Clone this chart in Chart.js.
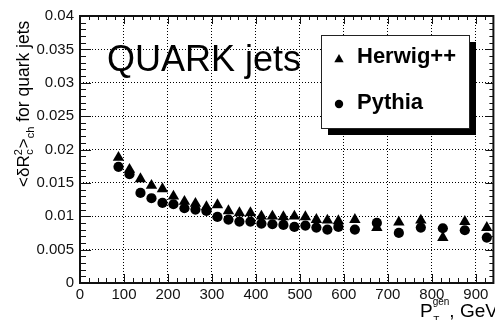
<!DOCTYPE html>
<html>
<head>
<meta charset="utf-8">
<script src="https://cdn.jsdelivr.net/npm/chart.js@4.4.0/dist/chart.umd.min.js"></script>
<style>
  html, body { margin: 0; padding: 0; background: #fff; overflow: hidden; }
</style>
</head>
<body>
<canvas id="myChart" width="500" height="320"></canvas>
<script>
// generator-level pT bin centres, GeV
const ptBins = [87.5, 112.5, 137.5, 162.5, 187.5, 212.5, 237.5, 262.5, 287.5, 312.5,
                337.5, 362.5, 387.5, 412.5, 437.5, 462.5, 487.5, 512.5, 537.5, 562.5,
                587.5, 625, 675, 725, 775, 825, 875, 925]
// <dR^2> for charged constituents of quark jets
const herwig = [0.0188, 0.0170, 0.0156, 0.0146, 0.0141, 0.0130, 0.0122, 0.0119, 0.0114, 0.0117,
                0.0108, 0.0105, 0.0105, 0.0100, 0.0100, 0.0099, 0.0100, 0.0099, 0.0095, 0.0094,
                0.0093, 0.0095, 0.0083, 0.0091, 0.0094, 0.0068, 0.0092, 0.0083]
const pythia = [0.0174, 0.0163, 0.0135, 0.0127, 0.0120, 0.0118, 0.0112, 0.0110, 0.0108, 0.0099,
                0.0095, 0.0092, 0.0092, 0.0089, 0.0088, 0.0087, 0.0084, 0.0086, 0.0083, 0.0080,
                0.0084, 0.0080, 0.0090, 0.0075, 0.0083, 0.0082, 0.0079, 0.0068]
const seriesNames = ['Herwig++', 'Pythia']
const xTicks = [0, 100, 200, 300, 400, 500, 600, 700, 800, 900]
const yTicks = [0, 0.005, 0.01, 0.015, 0.02, 0.025, 0.03, 0.035, 0.04]
const plotTitle = 'QUARK jets'

const FONT = "'Liberation Sans', Arial, Helvetica, sans-serif"
const ink = '#111'

function toPoints(ys) {
    return ptBins.map((x, i) => ({ x: x, y: ys[i] }))
}

function drawMarker(ctx, style, x, y, r) {
    ctx.beginPath()
    if (style === 'triangle') {
        ctx.moveTo(x, y - r)
        ctx.lineTo(x + r * 0.866, y + r / 2)
        ctx.lineTo(x - r * 0.866, y + r / 2)
        ctx.closePath()
    } else {
        ctx.arc(x, y, r, 0, Math.PI * 2)
    }
    ctx.fill()
}

// ROOT-like frame: inward ticks on all sides, titles, text and shadowed legend box
const rootFrame = {
    id: 'rootFrame',
    afterDraw(chart) {
        const { ctx, chartArea: a, scales } = chart
        const sx = scales.x, sy = scales.y
        ctx.save()
        ctx.strokeStyle = ink
        ctx.lineWidth = 1
        const seg = (x1, y1, x2, y2) => {
            ctx.beginPath(); ctx.moveTo(x1, y1); ctx.lineTo(x2, y2); ctx.stroke()
        }
        for (let v = 0; v <= sx.max; v += 20) {
            const px = Math.round(sx.getPixelForValue(v)) + 0.5
            const major = v % 100 === 0
            seg(px, a.bottom, px, a.bottom - (major ? 9 : 5))
            seg(px, a.top, px, a.top + (major ? 8 : 4))
        }
        for (let i = 0; i <= 40; i++) {
            const py = Math.round(sy.getPixelForValue(i * 0.001)) + 0.5
            const major = i % 5 === 0
            seg(a.left, py, a.left + (major ? 11 : 6), py)
            seg(a.right, py, a.right - (major ? 8 : 4), py)
        }
        ctx.lineWidth = 2
        ctx.strokeRect(a.left, a.top, a.right - a.left, a.bottom - a.top)

        // plot label
        ctx.fillStyle = '#000'
        ctx.font = '36px ' + FONT
        ctx.textBaseline = 'alphabetic'
        ctx.textAlign = 'left'
        ctx.fillText(plotTitle, 107, 71)

        // legend box with drop shadow
        const bx = 321, by = 35, bw = 148, bh = 93
        ctx.fillStyle = '#000'
        ctx.fillRect(bx + 7, by + 7, bw, bh)
        ctx.fillStyle = '#fff'
        ctx.fillRect(bx, by, bw, bh)
        ctx.lineWidth = 1
        ctx.strokeStyle = '#222'
        ctx.strokeRect(bx + 0.5, by + 0.5, bw, bh)
        ctx.fillStyle = '#000'
        ctx.font = 'bold 22px ' + FONT
        const rows = [{ cy: 59.5, base: 63 }, { cy: 104, base: 109 }]
        chart.data.datasets.forEach((ds, i) => {
            drawMarker(ctx, ds.pointStyle, 339, rows[i].cy, ds.pointStyle === 'triangle' ? 5.4 : 4.2)
            ctx.fillText(ds.label, 357, rows[i].base)
        })

        // y axis title
        ctx.save()
        ctx.translate(29, 187)
        ctx.rotate(-Math.PI / 2)
        ctx.font = '17px ' + FONT
        let u = 0
        ctx.fillText('<\u03B4R', u, 0)
        u += ctx.measureText('<\u03B4R').width
        ctx.font = '11px ' + FONT
        ctx.fillText('2', u, -7)
        ctx.fillText('c', u + 0.5, 4)
        u += ctx.measureText('2').width + 1
        ctx.font = '17px ' + FONT
        ctx.fillText('>', u, 0)
        u += ctx.measureText('>').width
        ctx.font = '11px ' + FONT
        ctx.fillText('ch', u, 5)
        u += ctx.measureText('ch').width
        ctx.font = '17.5px ' + FONT
        ctx.fillText(' for quark jets', u, 0)
        ctx.restore()

        // x axis title
        ctx.font = '19px ' + FONT
        ctx.fillText('P', 420, 317)
        let t = 420 + ctx.measureText('P').width
        ctx.font = '10px ' + FONT
        ctx.fillText('gen', t, 305)
        ctx.fillText('T', t + 0.5, 324)
        t += ctx.measureText('gen').width
        ctx.font = '19px ' + FONT
        ctx.fillText(', GeV', t, 317)
        ctx.restore()
    }
}

const ctx = document.getElementById('myChart')

const config = {
    type: 'scatter',
    data: {
        datasets: [{
            label: seriesNames[0],
            data: toPoints(herwig),
            pointStyle: 'triangle',
            pointRadius: 6.6,
            backgroundColor: '#000',
            borderColor: '#000',
            borderWidth: 0
        }, {
            label: seriesNames[1],
            data: toPoints(pythia),
            pointStyle: 'circle',
            pointRadius: 5.1,
            backgroundColor: '#000',
            borderColor: '#000',
            borderWidth: 0
        }]
    },
    options: {
        responsive: false,
        animation: false,
        layout: { padding: { left: 0, top: 16, right: 3.3, bottom: 0 } },
        plugins: {
            legend: { display: false },
            tooltip: { enabled: false }
        },
        scales: {
            x: {
                type: 'linear',
                min: 0,
                max: 940,
                afterFit(s) { s.height = 37 },
                afterBuildTicks(s) { s.ticks = xTicks.map(v => ({ value: v })) },
                ticks: {
                    padding: 3,
                    color: ink,
                    autoSkip: false,
                    maxRotation: 0,
                    font: { family: FONT, size: 15 },
                    callback: v => String(v)
                },
                grid: { color: '#000', lineWidth: 1, drawTicks: false },
                border: { display: false, dash: [1, 2] }
            },
            y: {
                type: 'linear',
                min: 0,
                max: 0.04,
                afterFit(s) { s.width = 80 },
                afterBuildTicks(s) { s.ticks = yTicks.map(v => ({ value: v })) },
                ticks: {
                    padding: 6,
                    color: ink,
                    font: { family: FONT, size: 15 },
                    callback: v => String(+v.toFixed(3))
                },
                grid: { color: '#000', lineWidth: 1, drawTicks: false },
                border: { display: false, dash: [1, 2] }
            }
        }
    },
    plugins: [rootFrame]
}
const charts = new Chart(ctx, config)
</script>
</body>
</html>
